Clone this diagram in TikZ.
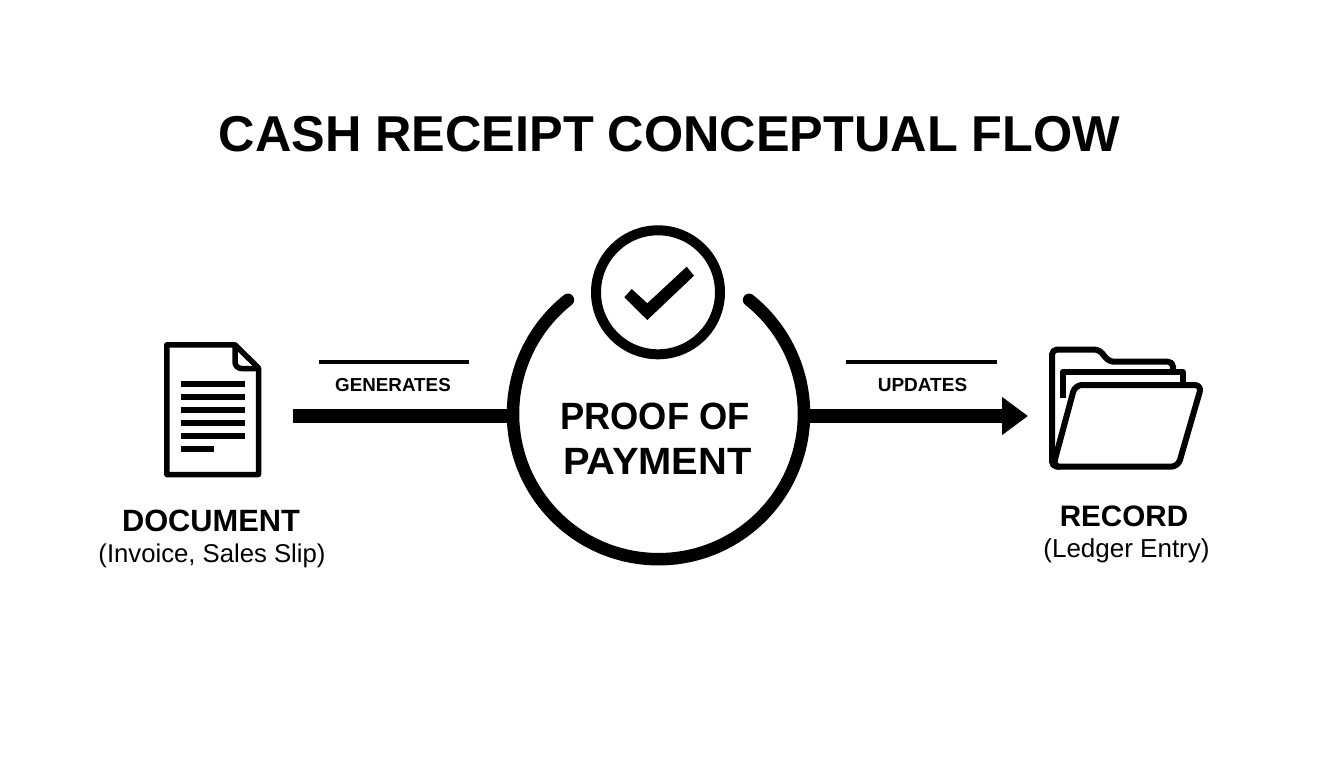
\documentclass[tikz,border=0pt]{standalone}
\usepackage{fontspec}
\setmainfont{Liberation Sans}
\usetikzlibrary{arrows.meta}
\tikzset{
  ink/.style={draw=black,line join=round},
  txt/.style={inner sep=0pt,outer sep=0pt,align=center,text=black},
  doclines/.style={draw=black,line width=6pt},
  thinrule/.style={draw=black,line width=3.5pt},
  bar/.style={draw=black,line width=14pt},
}
\newcommand{\fs}[1]{\fontsize{#1pt}{#1pt}\selectfont}
\begin{document}
\begin{tikzpicture}[x=1pt,y=-1pt]
\useasboundingbox (0,0) rectangle (1344,768);
\fill[white] (0,0) rectangle (1344,768);
% title
\node[txt] (title) at (669.5,134) {\fs{50.4}\bfseries CASH RECEIPT CONCEPTUAL FLOW};
% central ring
\node[circle,minimum size=291pt,inner sep=0pt,outer sep=0pt] (ring) at (657.5,414.5) {};
\node[circle,draw=black,line width=10pt,minimum size=124pt,inner sep=0pt,outer sep=0pt] (seal) at (658,292.3) {};
\draw[ink,line width=12.5pt,line cap=round] (ring.128.5) arc[start angle=128.5,end angle=411.5,radius=145.5pt];
\fill[black] (624.3,297.3) -- (631.7,289) -- (647.3,303.3) -- (686.7,266.7) -- (694,275.7) -- (647.3,320) -- cycle;
\node[txt,xscale=.955,transform shape] (proof) at (655,416) {\fs{38}\bfseries PROOF OF};
\node[txt,xscale=1.05,transform shape] (payment) at (657.5,461) {\fs{38}\bfseries PAYMENT};
% connectors
\coordinate (barstart) at (293.3,416);
\coordinate (barend) at (1028,416);
\draw[bar] (barstart) -- (barstart -| ring.west);
\draw[bar,-{Triangle[length=26pt,width=36.5pt]}] (barend -| ring.east) -- (barend);
% thin rules
\coordinate (ga) at (319.3,362); \coordinate (gb) at (469.3,362);
\coordinate (ua) at (846,362); \coordinate (ub) at (997.3,362);
\draw[thinrule] (ga) -- (gb);
\draw[thinrule] (ua) -- (ub);
\node[txt] (generates) at (393,385) {\fs{18.8}\bfseries GENERATES};
\node[txt] (updates) at (922.5,385) {\fs{19}\bfseries UPDATES};
% document icon
\draw[ink,line width=5.5pt] (235,344.8) -- (166.8,344.8) -- (166.8,474.5) -- (258.5,474.5) -- (258.5,368) -- cycle;
\draw[ink,line width=5.5pt] (235,344.8) -- (235,362) arc[start angle=180,end angle=270,radius=6.5pt] -- (258.5,368.5);
\foreach \yy in {383.7,396.7,410,423,436}{\coordinate (l) at (180.7,\yy);\coordinate (r) at (245,\yy);\draw[doclines] (l) -- (r);}
\coordinate (l6) at (180.7,449.3);\coordinate (r6) at (214.3,449.3);
\draw[doclines] (l6) -- (r6);
\node[txt] (doc) at (211,521) {\fs{30.8}\bfseries DOCUMENT};
\node[txt] (docsub) at (212,556) {\fs{25.7}(Invoice, Sales Slip)};
% folder icon
\draw[ink,line width=6pt,rounded corners=5pt] (1060,466.7) -- (1052,466.7) -- (1052,349.5) -- (1099,349.5) -- (1109,361.7) -- (1173,361.7) -- (1173,372);
\draw[ink,line width=6pt] (1063,398) -- (1063,371.7) -- (1182.7,371.7) -- (1182.7,384);
\draw[ink,line width=6pt,fill=white,rounded corners=7pt] (1075,385) -- (1201.7,385) -- (1178,466.7) -- (1053,466.7) -- cycle;
\node[txt] (record) at (1124,516) {\fs{29.6}\bfseries RECORD};
\node[txt] (recsub) at (1126.5,551) {\fs{26}(Ledger Entry)};
\end{tikzpicture}
\end{document}
